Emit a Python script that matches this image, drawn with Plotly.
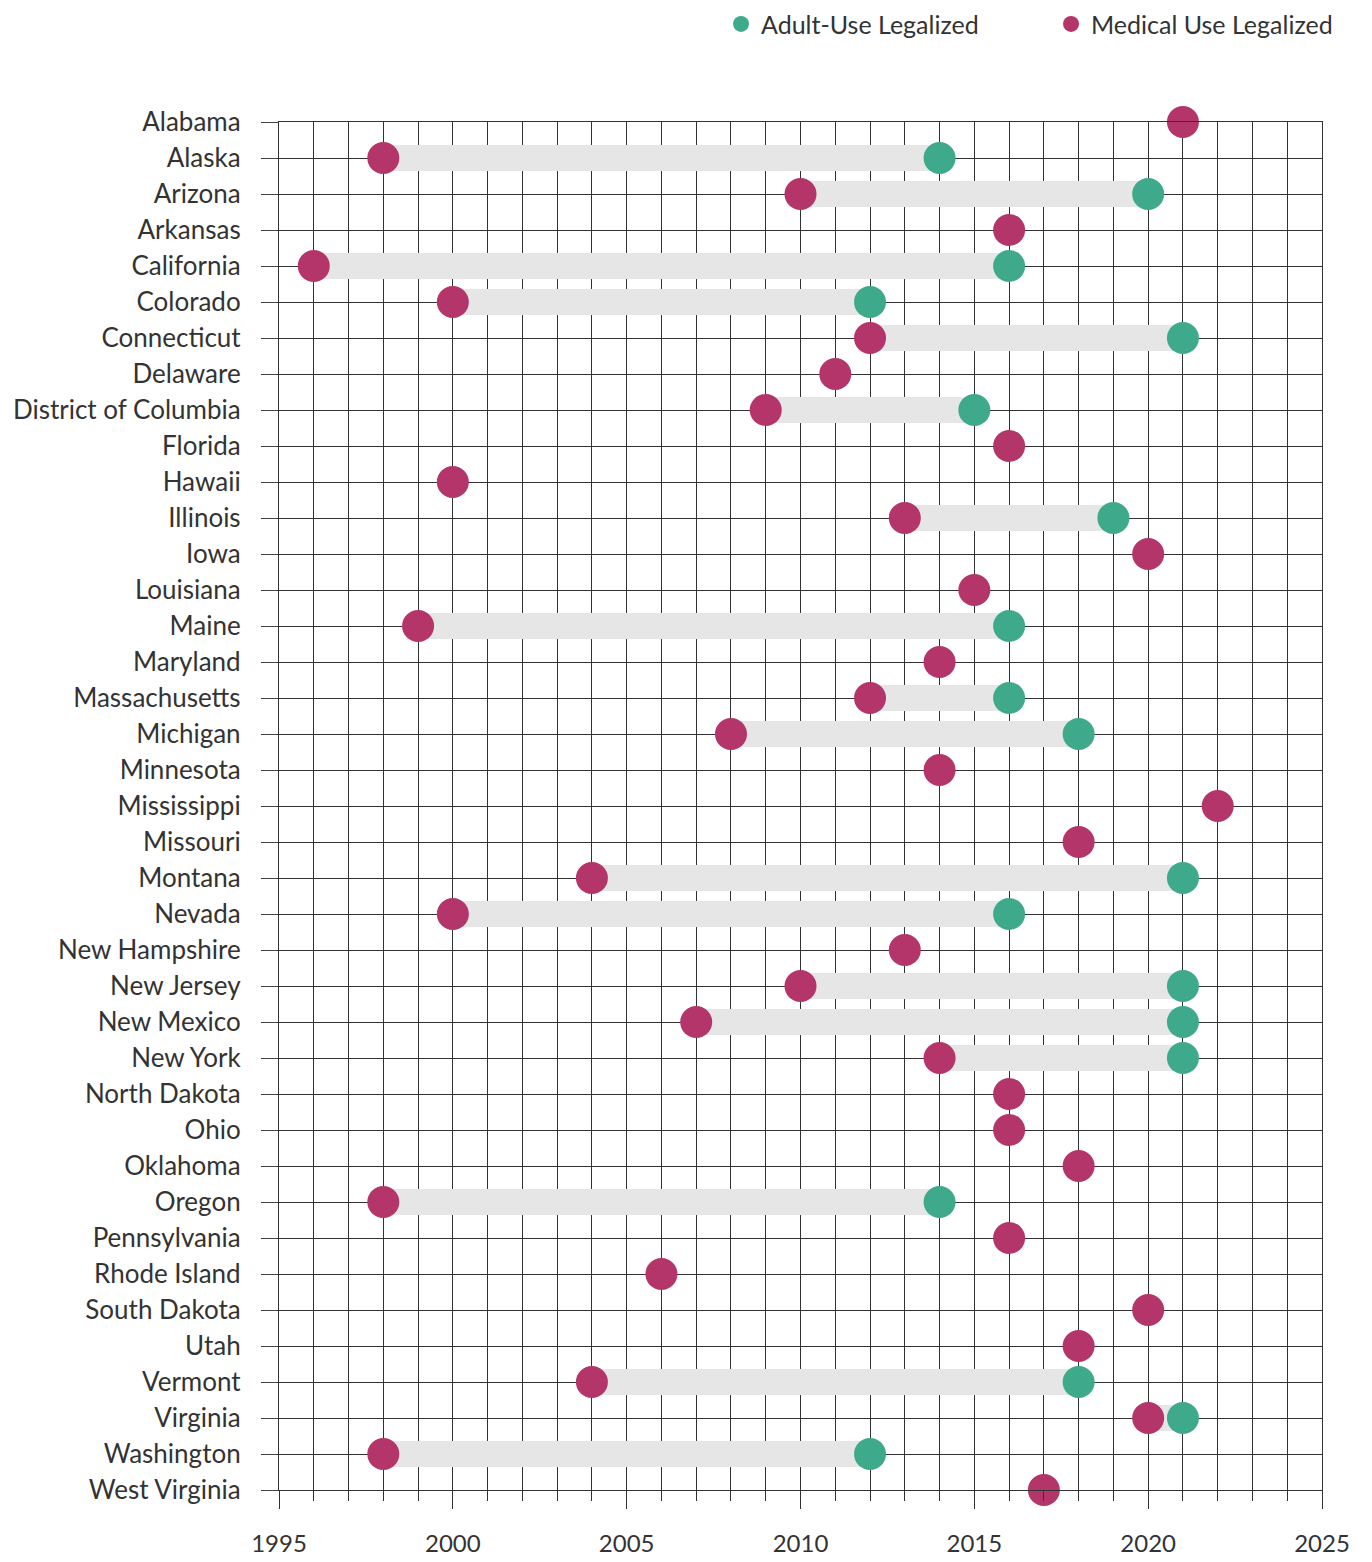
import plotly.graph_objects as go

states = ["Alabama", "Alaska", "Arizona", "Arkansas", "California", "Colorado", "Connecticut",
          "Delaware", "District of Columbia", "Florida", "Hawaii", "Illinois", "Iowa", "Louisiana",
          "Maine", "Maryland", "Massachusetts", "Michigan", "Minnesota", "Mississippi", "Missouri",
          "Montana", "Nevada", "New Hampshire", "New Jersey", "New Mexico", "New York",
          "North Dakota", "Ohio", "Oklahoma", "Oregon", "Pennsylvania", "Rhode Island",
          "South Dakota", "Utah", "Vermont", "Virginia", "Washington", "West Virginia"]

medical_year = [2021, 1998, 2010, 2016, 1996, 2000, 2012,
                2011, 2009, 2016, 2000, 2013, 2020, 2015,
                1999, 2014, 2012, 2008, 2014, 2022, 2018,
                2004, 2000, 2013, 2010, 2007, 2014,
                2016, 2016, 2018, 1998, 2016, 2006,
                2020, 2018, 2004, 2020, 1998, 2017]

adult_year = [None, 2014, 2020, None, 2016, 2012, 2021,
              None, 2015, None, None, 2019, None, None,
              2016, None, 2016, 2018, None, None, None,
              2021, 2016, None, 2021, 2021, 2021,
              None, None, None, 2014, None, None,
              None, None, 2018, 2021, 2012, None]

x_tick_vals = [1995, 2000, 2005, 2010, 2015, 2020, 2025]

MED = "#B3356A"
ADULT = "#3EAA8B"
BAR = "#E6E6E6"
GRID = "#333333"
FONT = "Lato"

bx, by = [], []
for s, m, a in zip(states, medical_year, adult_year):
    if a is not None:
        bx += [m, a, None]
        by += [s, s, None]

fig = go.Figure()
fig.add_trace(go.Scatter(x=bx, y=by, mode="lines", line=dict(color=BAR, width=26),
                         showlegend=False, hoverinfo="skip", connectgaps=False))

ax = [a for a in adult_year if a is not None]
ay = [s for s, a in zip(states, adult_year) if a is not None]
fig.add_trace(go.Scatter(x=ax, y=ay, mode="markers", name="Adult-Use Legalized",
                         marker=dict(color=ADULT, size=32), cliponaxis=False))
fig.add_trace(go.Scatter(x=medical_year, y=states, mode="markers", name="Medical Use Legalized",
                         marker=dict(color=MED, size=32), cliponaxis=False))

fig.update_layout(
    width=1372, height=1562,
    margin=dict(l=271, r=58, t=114, b=80, autoexpand=False),
    paper_bgcolor="white", plot_bgcolor="white",
    font=dict(family=FONT, size=26, color="#333333", weight=400),
    legend=dict(orientation="h", xanchor="right", x=1.0566, yanchor="middle", y=1.0715,
                font=dict(size=25, color="#333333", family=FONT, weight=400),
                itemsizing="trace", itemwidth=30, bgcolor="rgba(0,0,0,0)",
                traceorder="normal", entrywidth=285, entrywidthmode="pixels"),
    showlegend=True,
)
fig.update_xaxes(range=[1995, 2025], tickvals=x_tick_vals, ticks="outside", ticklen=18,
                 tickcolor=GRID, tickwidth=1.3, showgrid=True, gridcolor=GRID, gridwidth=1.3,
                 minor=dict(dtick=1, tick0=1995, ticks="outside", ticklen=10, tickcolor=GRID,
                            tickwidth=1.3, showgrid=True, gridcolor=GRID, gridwidth=1.3),
                 zeroline=False, showline=True, mirror=True, linecolor=GRID, linewidth=1.3,
                 ticklabelstandoff=14, automargin=False,
                 tickfont=dict(size=24, color="#333333", weight=400))
fig.update_yaxes(type="category", categoryorder="array", categoryarray=states,
                 range=[len(states) - 1, 0], ticks="outside", ticklen=17, tickcolor="#444444",
                 tickwidth=1.3, showgrid=True, gridcolor=GRID, gridwidth=1.3,
                 zeroline=False, showline=True, mirror=True, linecolor=GRID, linewidth=1.3,
                 ticklabelstandoff=15, automargin=False,
                 tickfont=dict(size=26, color="#333333", weight=400))

fig.write_html("out.html")
